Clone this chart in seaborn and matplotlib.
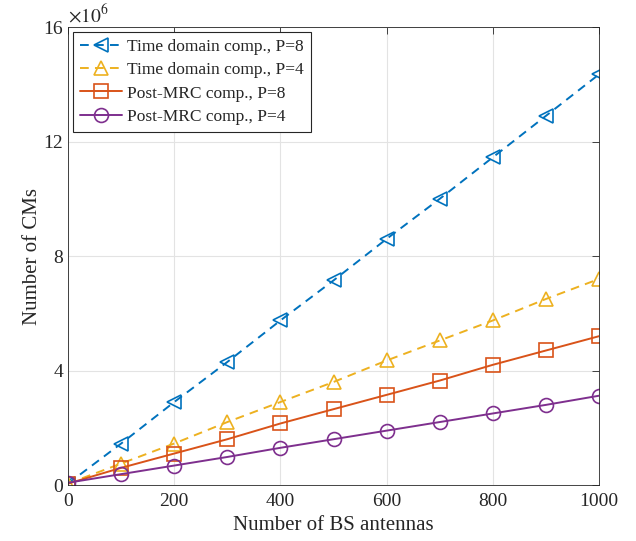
import numpy as np
import pandas as pd
import matplotlib
matplotlib.use('Agg')
import matplotlib.pyplot as plt
import seaborn as sns

# ---------------------------------------------------------------
# DATA (values in units of 1e6 CMs)
# ---------------------------------------------------------------
antennas = [0, 100, 200, 300, 400, 500, 600, 700, 800, 900, 1000]
time_p8 = [0.05, 1.45, 2.9, 4.3, 5.75, 7.15, 8.6, 10.0, 11.45, 12.9, 14.35]
time_p4 = [0.05, 0.75, 1.45, 2.2, 2.9, 3.6, 4.35, 5.05, 5.75, 6.5, 7.2]
mrc_p8 = [0.05, 0.6, 1.1, 1.6, 2.15, 2.65, 3.15, 3.65, 4.2, 4.7, 5.2]
mrc_p4 = [0.08, 0.38, 0.68, 0.98, 1.3, 1.6, 1.9, 2.2, 2.5, 2.8, 3.12]

series = [
    ('Time domain comp., P=8', time_p8, '#0072BD', '<', '--'),
    ('Time domain comp., P=4', time_p4, '#EDB120', '^', '--'),
    ('Post-MRC comp., P=8', mrc_p8, '#D95319', 's', '-'),
    ('Post-MRC comp., P=4', mrc_p4, '#7E2F8E', 'o', '-'),
]

# ---------------------------------------------------------------
# STYLE
# ---------------------------------------------------------------
sns.set_style('white')
plt.rcParams['font.family'] = ['Liberation Serif', 'DejaVu Serif']
plt.rcParams['mathtext.fontset'] = 'stix'

fig = plt.figure(figsize=(6.36, 5.41), dpi=100)
ax = fig.add_axes([0.107, 0.1035, 0.835, 0.8465])

for name, vals, color, marker, ls in series:
    df = pd.DataFrame({'x': antennas, 'y': vals})
    kw = dict(dashes=(4.5, 3.2)) if ls == '--' else dict(linestyle='-')
    sns.lineplot(data=df, x='x', y='y', ax=ax, color=color, marker=marker,
                 linewidth=1.4, markersize=10, mfc='none',
                 mec=color, mew=1.2, label=name, **kw)

ax.set_xlim(0, 1000)
ax.set_ylim(0, 16)
ax.set_xticks([0, 200, 400, 600, 800, 1000])
ax.set_yticks([0, 4, 8, 12, 16])
ax.set_xlabel('Number of BS antennas', fontsize=15, color='#262626', labelpad=4)
ax.set_ylabel('Number of CMs', fontsize=15, color='#262626', labelpad=1)
ax.tick_params(direction='in', top=True, right=True, labelsize=14,
               colors='#262626', length=5, width=0.6)
ax.tick_params(axis='x', pad=6)
ax.grid(True, color='#e3e3e3', linewidth=0.8)
for sp in ax.spines.values():
    sp.set_color('#262626')
    sp.set_linewidth(0.6)

ax.text(0.0, 1.003, r'$\times10^{6}$', transform=ax.transAxes, fontsize=14,
        color='#262626', ha='left', va='bottom')

leg = ax.legend(loc='upper left', fontsize=12.5, frameon=True, fancybox=False,
                edgecolor='#262626', framealpha=1, handlelength=2.4,
                borderpad=0.4, labelspacing=0.4, handletextpad=0.3,
                borderaxespad=0.3)
leg.get_frame().set_linewidth(0.8)

fig.savefig('out.png', dpi=100)
